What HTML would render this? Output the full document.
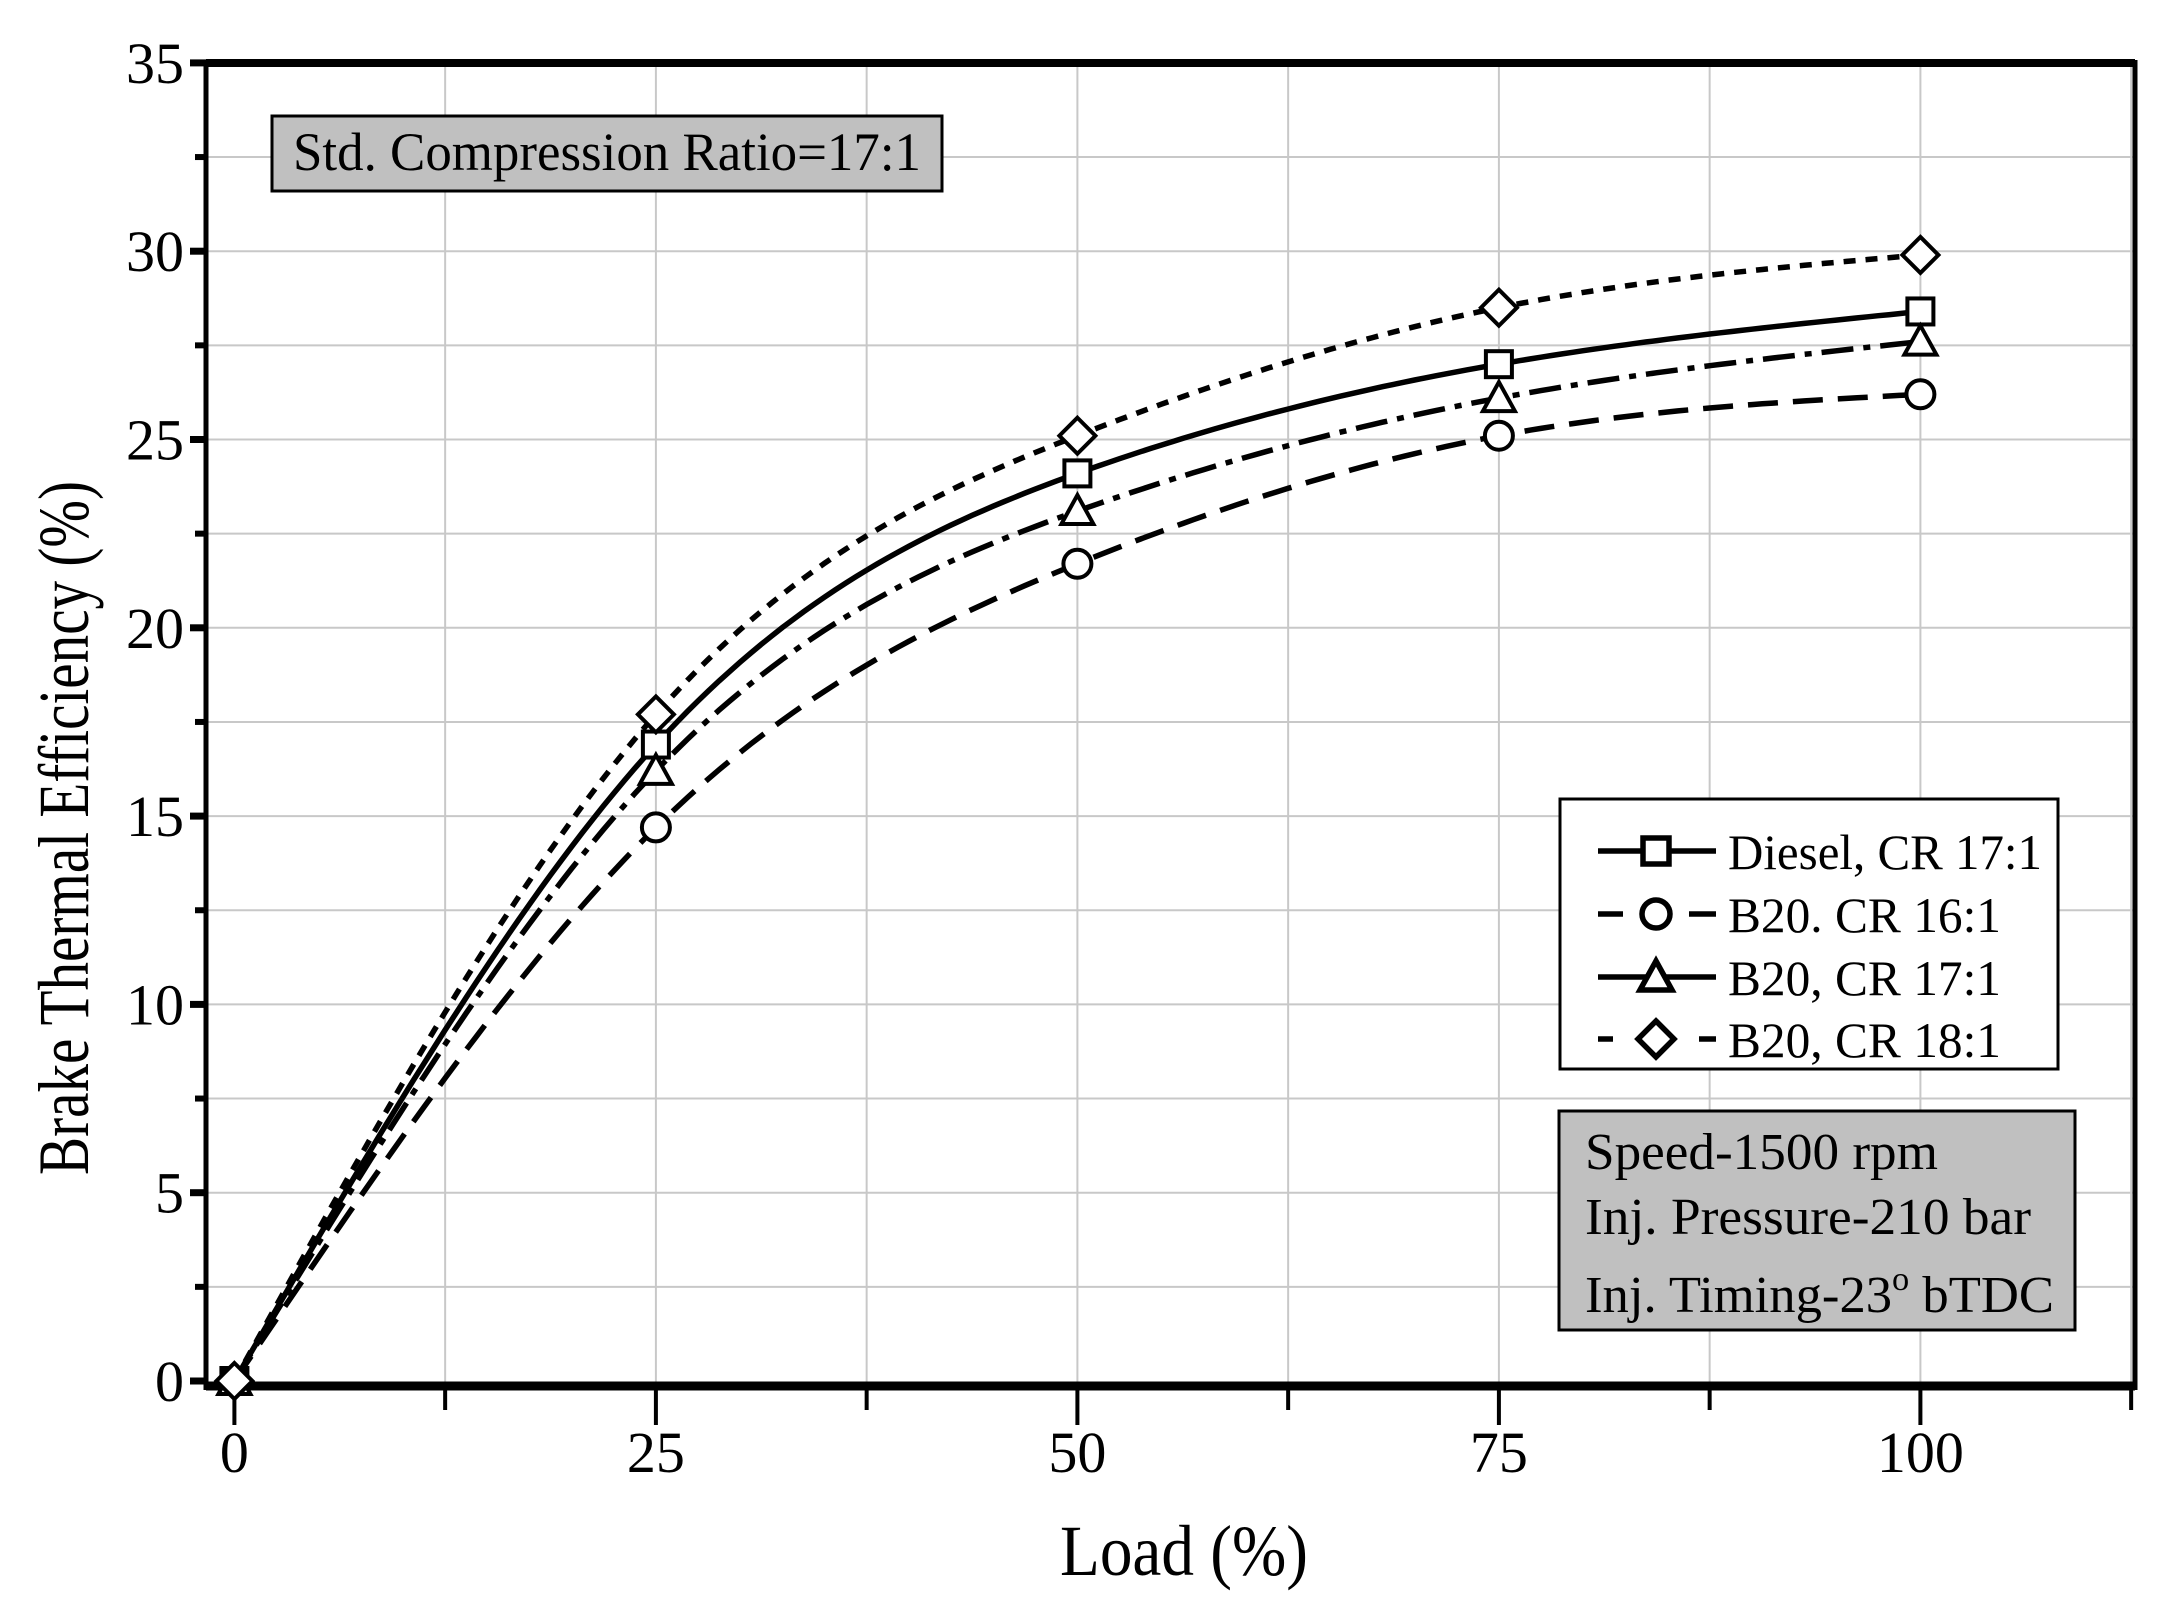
<!DOCTYPE html>
<html><head><meta charset="utf-8"><style>
html,body{margin:0;padding:0;background:#fff}
svg{display:block}
text{font-family:"Liberation Serif",serif;fill:#000}
</style></head><body>
<svg id="s" width="2177" height="1615" viewBox="0 0 2177 1615" xmlns="http://www.w3.org/2000/svg">
<rect width="2177" height="1615" fill="#fff"/>
<g id="grid" stroke="#c8c8c8" stroke-width="2"></g>
<g id="ticks" stroke="#000"></g>
<line x1="206" y1="63" x2="2135" y2="63" stroke="#000" stroke-width="8"/>
<line x1="206" y1="1386" x2="2135" y2="1386" stroke="#000" stroke-width="9"/>
<line x1="206" y1="60" x2="206" y2="1390" stroke="#000" stroke-width="5"/>
<line x1="2135" y1="60" x2="2135" y2="1390" stroke="#000" stroke-width="5"/>
<g id="labels" font-size="58"></g>
<text transform="translate(88,828) rotate(-90)" text-anchor="middle" font-size="72" textLength="694" lengthAdjust="spacingAndGlyphs">Brake Thermal Efficiency (%)</text>
<text x="1184" y="1575" text-anchor="middle" font-size="72" textLength="248" lengthAdjust="spacingAndGlyphs">Load (%)</text>
<g id="curves" fill="none" stroke="#000" stroke-width="5.5"></g>
<g id="marks" fill="#fff" stroke="#000" stroke-width="4"></g>
<rect x="272" y="116" width="670" height="75" fill="#c0c0c0" stroke="#000" stroke-width="3"/>
<text x="293" y="170" font-size="54" textLength="628" lengthAdjust="spacingAndGlyphs">Std. Compression Ratio=17:1</text>
<g transform="translate(-7,-3)">
<rect x="1567" y="802" width="498" height="270" fill="#fff" stroke="#000" stroke-width="3"/>
<g id="leg" fill="#fff" stroke="#000" stroke-width="5.5"></g>
<g font-size="50">
<text x="1735" y="872" textLength="314" lengthAdjust="spacingAndGlyphs">Diesel, CR 17:1</text>
<text x="1735" y="935" textLength="273" lengthAdjust="spacingAndGlyphs">B20. CR 16:1</text>
<text x="1735" y="998" textLength="273" lengthAdjust="spacingAndGlyphs">B20, CR 17:1</text>
<text x="1735" y="1060" textLength="273" lengthAdjust="spacingAndGlyphs">B20, CR 18:1</text>
</g>
<rect x="1566" y="1114" width="516" height="219" fill="#c0c0c0" stroke="#000" stroke-width="3"/>
<g font-size="52">
<text x="1592" y="1172" textLength="353" lengthAdjust="spacingAndGlyphs">Speed-1500 rpm</text>
<text x="1592" y="1237" textLength="446" lengthAdjust="spacingAndGlyphs">Inj. Pressure-210 bar</text>
<text x="1592" y="1315" textLength="469" lengthAdjust="spacingAndGlyphs">Inj. Timing-23<tspan dy="-22" font-size="34">o</tspan><tspan dy="22"> bTDC</tspan></text>
</g>
</g>
</svg>
<script>
var NS="http://www.w3.org/2000/svg";
function X(v){return 234.4+16.86*v}
function Y(v){return 1381-37.66*v}
function el(p,t,a){var e=document.createElementNS(NS,t);for(var k in a)e.setAttribute(k,a[k]);document.getElementById(p).appendChild(e);return e}
for(var i=1;i<=9;i++){var x=X(i*12.5);el("grid","line",{x1:x,y1:63,x2:x,y2:1386});}
for(var j=1;j<=13;j++){var y=Y(j*2.5);el("grid","line",{x1:206,y1:y,x2:2135,y2:y});}
for(var j=0;j<=14;j++){var y=Y(j*2.5);var maj=j%2==0;el("ticks","line",{x1:maj?190:195,y1:y,x2:206,y2:y,"stroke-width":maj?7:6});
 if(maj){var t=el("labels","text",{x:184,y:y+20,"text-anchor":"end"});t.textContent=String(j*2.5);}}
for(var i=0;i<=9;i++){var x=X(i*12.5);var maj=i%2==0;el("ticks","line",{x1:x,y1:1386,x2:x,y2:maj?1425:1410,"stroke-width":4});
 if(maj&&i<=8){var t=el("labels","text",{x:x,y:1472,"text-anchor":"middle"});t.textContent=String(i*12.5);}}
function spline(xs,ys){var n=xs.length-1,h=[],al=[],l=[1],mu=[0],z=[0],c=[],b=[],d=[];
 for(var i=0;i<n;i++)h[i]=xs[i+1]-xs[i];
 for(var i=1;i<n;i++)al[i]=3/h[i]*(ys[i+1]-ys[i])-3/h[i-1]*(ys[i]-ys[i-1]);
 for(var i=1;i<n;i++){l[i]=2*(xs[i+1]-xs[i-1])-h[i-1]*mu[i-1];mu[i]=h[i]/l[i];z[i]=(al[i]-h[i-1]*z[i-1])/l[i];}
 c[n]=0;for(var j=n-1;j>=0;j--){c[j]=z[j]-mu[j]*c[j+1];b[j]=(ys[j+1]-ys[j])/h[j]-h[j]*(c[j+1]+2*c[j])/3;d[j]=(c[j+1]-c[j])/(3*h[j]);}
 var pts=[];for(var j=0;j<n;j++){for(var k=0;k<40;k++){var dx=h[j]*k/40;pts.push([xs[j]+dx,ys[j]+b[j]*dx+c[j]*dx*dx+d[j]*dx*dx*dx]);}}
 pts.push([xs[n],ys[n]]);return pts;}
var xs=[0,25,50,75,100];
var series=[
 {y:[0,16.9,24.1,27.0,28.4],dash:"",m:"sq"},
 {y:[0,14.7,21.7,25.1,26.2],dash:"30 15",m:"ci"},
 {y:[0,16.2,23.1,26.1,27.6],dash:"32 10 7 10",m:"tr"},
 {y:[0,17.7,25.1,28.5,29.9],dash:"12 10",m:"di"}];
function marker(g,m,cx,cy){
 if(m=="sq")el(g,"rect",{x:cx-13,y:cy-13,width:26,height:26});
 else if(m=="ci")el(g,"circle",{cx:cx,cy:cy,r:14});
 else if(m=="tr")el(g,"polygon",{points:(cx)+","+(cy-16)+" "+(cx-16)+","+(cy+13)+" "+(cx+16)+","+(cy+13)});
 else el(g,"polygon",{points:cx+","+(cy-18)+" "+(cx+18)+","+cy+" "+cx+","+(cy+18)+" "+(cx-18)+","+cy});
}
series.forEach(function(s){
 var p=spline(xs,s.y),d="";p.forEach(function(q,i){d+=(i?"L":"M")+X(q[0]).toFixed(1)+","+Y(q[1]).toFixed(1)});
 var a={d:d};if(s.dash)a["stroke-dasharray"]=s.dash;el("curves","path",a);
});
series.forEach(function(s){for(var i=0;i<5;i++)marker("marks",s.m,X(xs[i]),Y(s.y[i]));});
var ly=[854,917,980,1042];
el("leg","path",{d:"M1605,854H1723",fill:"none"});
el("leg","path",{d:"M1605,917H1630M1696,917H1723",fill:"none"});
el("leg","path",{d:"M1605,980H1723",fill:"none"});
el("leg","path",{d:"M1605,1042H1620M1706,1042H1723",fill:"none"});
series.forEach(function(s,i){marker("leg",s.m,1663,ly[i]);});
</script>
</body></html>
